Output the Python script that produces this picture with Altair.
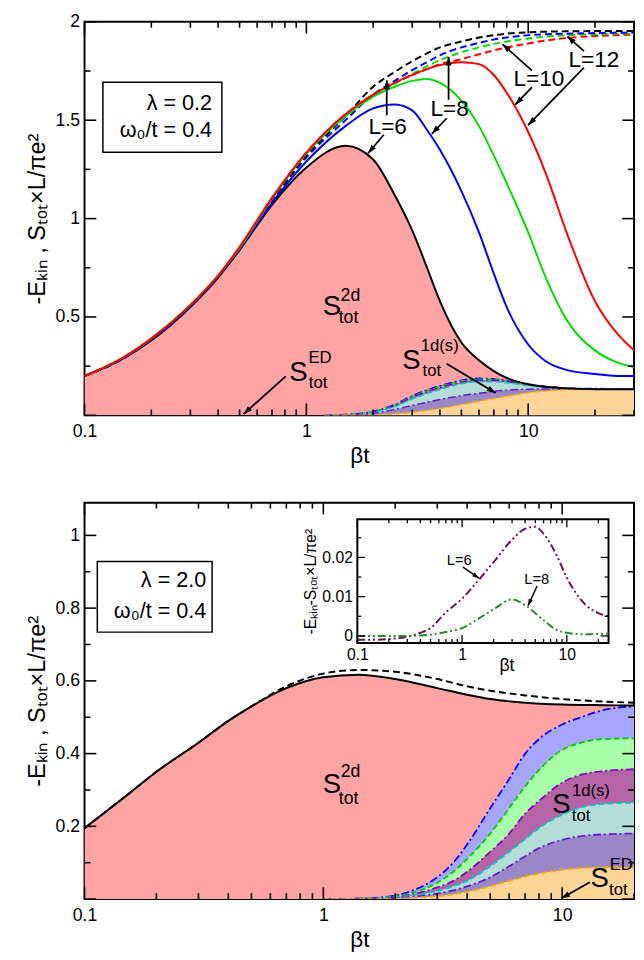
import math
import altair as alt
import pandas as pd

FONT = "Liberation Sans"

# ---------------- top panel: lambda = 0.2, omega0/t = 0.4 ----------------
BT_TOP = [0.1, 0.15, 0.2, 0.3, 0.4, 0.5, 0.7, 1.0, 1.5, 2.0, 2.5, 3.0, 3.5, 4.0,
          5.0, 6.0, 7.0, 8.0, 10.0, 12.0, 15.0, 20.0, 25.0, 30.0]
S_TOP_L6 = [0.20, 0.29, 0.38, 0.55, 0.70, 0.84, 1.07, 1.26, 1.37, 1.30, 1.12, 0.94,
            0.75, 0.58, 0.37, 0.28, 0.225, 0.19, 0.158, 0.145, 0.137, 0.133, 0.132, 0.132]
S_TOP_L8 = [0.20, 0.29, 0.385, 0.555, 0.705, 0.845, 1.08, 1.29, 1.47, 1.56, 1.58, 1.55,
            1.45, 1.35, 1.14, 0.93, 0.72, 0.55, 0.36, 0.275, 0.23, 0.21, 0.20, 0.20]
S_TOP_L10 = [0.20, 0.295, 0.39, 0.56, 0.71, 0.85, 1.10, 1.33, 1.52, 1.62, 1.67, 1.70,
             1.71, 1.69, 1.60, 1.47, 1.32, 1.18, 0.93, 0.70, 0.48, 0.33, 0.27, 0.245]
S_TOP_L12 = [0.20, 0.295, 0.39, 0.56, 0.71, 0.855, 1.105, 1.335, 1.53, 1.63, 1.69, 1.73,
             1.76, 1.78, 1.795, 1.785, 1.73, 1.64, 1.44, 1.23, 0.92, 0.58, 0.42, 0.33]
E_TOP_L6 = [0.20, 0.29, 0.385, 0.555, 0.705, 0.85, 1.09, 1.32, 1.52, 1.67, 1.745, 1.80,
            1.84, 1.87, 1.90, 1.92, 1.932, 1.94, 1.947, 1.95, 1.952, 1.953, 1.953, 1.953]
E_TOP_L8 = [0.20, 0.29, 0.385, 0.555, 0.705, 0.85, 1.09, 1.31, 1.50, 1.63, 1.70, 1.755,
            1.795, 1.83, 1.87, 1.893, 1.91, 1.92, 1.932, 1.937, 1.94, 1.943, 1.945, 1.945]
E_TOP_L10 = [0.20, 0.295, 0.39, 0.56, 0.71, 0.85, 1.10, 1.33, 1.52, 1.62, 1.685, 1.735,
             1.775, 1.805, 1.845, 1.87, 1.888, 1.90, 1.915, 1.925, 1.932, 1.937, 1.94, 1.94]
E_TOP_L12 = [0.20, 0.295, 0.39, 0.56, 0.71, 0.855, 1.105, 1.335, 1.53, 1.63, 1.69, 1.73,
             1.76, 1.785, 1.81, 1.835, 1.855, 1.87, 1.89, 1.905, 1.918, 1.928, 1.932, 1.935]

BT_TOP_1D = [1.2, 1.5, 2.0, 2.5, 3.0, 4.0, 5.0, 6.0, 7.0, 8.0, 10.0, 12.0, 15.0, 20.0, 30.0]
D_TOP_1 = [0, 0.004, 0.02, 0.055, 0.10, 0.15, 0.178, 0.188, 0.185, 0.177, 0.158, 0.147, 0.139, 0.136, 0.135]
D_TOP_2 = [0, 0.004, 0.019, 0.052, 0.096, 0.146, 0.174, 0.184, 0.182, 0.175, 0.156, 0.146, 0.138, 0.135, 0.135]
D_TOP_3 = [0, 0.003, 0.018, 0.049, 0.092, 0.141, 0.169, 0.179, 0.178, 0.172, 0.155, 0.145, 0.137, 0.135, 0.134]
D_TOP_4 = [0, 0.003, 0.016, 0.044, 0.083, 0.131, 0.160, 0.171, 0.171, 0.166, 0.151, 0.142, 0.136, 0.134, 0.134]
D_TOP_5 = [0, 0.002, 0.010, 0.030, 0.050, 0.080, 0.100, 0.112, 0.122, 0.128, 0.133, 0.134, 0.134, 0.134, 0.134]
ED_TOP = [0, 0.0, 0.002, 0.008, 0.015, 0.035, 0.055, 0.072, 0.085, 0.097, 0.115, 0.124, 0.130, 0.132, 0.133]

# ---------------- bottom panel: lambda = 2.0, omega0/t = 0.4 ----------------
BT_BOT = [0.1, 0.15, 0.2, 0.3, 0.4, 0.5, 0.7, 1.0, 1.4, 2.0, 3.0, 4.0, 5.0, 7.0, 10.0, 15.0, 20.0]
S_BOT = [0.195, 0.285, 0.35, 0.43, 0.49, 0.53, 0.58, 0.61, 0.617, 0.605, 0.58, 0.562,
         0.55, 0.54, 0.535, 0.533, 0.532]
E_BOT = [0.195, 0.285, 0.35, 0.43, 0.49, 0.53, 0.585, 0.62, 0.63, 0.625, 0.605, 0.585,
         0.573, 0.56, 0.55, 0.543, 0.54]

BT_BOT_1D = [1.0, 1.5, 2.0, 2.5, 3.0, 3.5, 4.0, 5.0, 6.0, 7.0, 8.0, 10.0, 12.0, 15.0, 20.0]
D_BOT_1 = [0.0, 0.002, 0.010, 0.030, 0.060, 0.100, 0.150, 0.250, 0.330, 0.400, 0.440, 0.480, 0.500, 0.520, 0.530]
D_BOT_2 = [0.0, 0.002, 0.008, 0.022, 0.045, 0.075, 0.110, 0.180, 0.250, 0.310, 0.355, 0.410, 0.430, 0.440, 0.442]
D_BOT_3 = [0.0, 0.001, 0.006, 0.017, 0.032, 0.050, 0.075, 0.130, 0.180, 0.235, 0.270, 0.320, 0.342, 0.352, 0.357]
D_BOT_4 = [0.0, 0.001, 0.005, 0.012, 0.022, 0.035, 0.050, 0.090, 0.130, 0.165, 0.195, 0.232, 0.252, 0.262, 0.265]
D_BOT_5 = [0.0, 0.001, 0.003, 0.008, 0.015, 0.024, 0.035, 0.060, 0.090, 0.118, 0.140, 0.163, 0.173, 0.178, 0.180]
ED_BOT = [0.0, 0.0, 0.001, 0.004, 0.008, 0.013, 0.020, 0.035, 0.050, 0.062, 0.070, 0.080, 0.085, 0.087, 0.087]

# ---------------- inset: -E_kin - S_tot ----------------
BT_INSET = [0.1, 0.15, 0.2, 0.3, 0.4, 0.5, 0.7, 1.0, 1.5, 2.0, 3.0, 4.0, 5.0, 6.0, 8.0,
            10.0, 12.0, 15.0, 20.0, 25.0]
DIFF_L6 = [-0.001, -0.001, -0.0008, -0.0002, 0.0008, 0.002, 0.006, 0.0095, 0.0148, 0.0188,
           0.0245, 0.0273, 0.0278, 0.026, 0.0205, 0.0148, 0.0112, 0.008, 0.0058, 0.005]
DIFF_L8 = [0.0, 0.0, 0.0, 0.0, 0.0001, 0.0003, 0.001, 0.002, 0.0047, 0.0068, 0.0093, 0.0078,
           0.0058, 0.004, 0.0015, 0.0008, 0.0005, 0.0004, 0.0005, 0.0006]

# ---------------- axes / ticks ----------------
TOP_XDOM = [0.1, 30.0]
TOP_YDOM = [0.0, 2.0]
BOT_XDOM = [0.1, 20.0]
BOT_YDOM = [0.0, 1.09]
INSET_XDOM = [0.1, 25.0]
INSET_YDOM = [-0.0018, 0.0297]
X_LABELS = [0.1, 1, 10]
TOP_YLABELS = [0.5, 1, 1.5, 2]
BOT_YLABELS = [0.2, 0.4, 0.6, 0.8, 1]
INSET_YLABELS = [0, 0.01, 0.02]

X_MAJOR = [0.1, 1, 10]
TOP_XMINOR = [0.2, 0.3, 0.4, 0.5, 0.6, 0.7, 0.8, 0.9, 2, 3, 4, 5, 6, 7, 8, 9, 20, 30]
BOT_XMINOR = [0.2, 0.3, 0.4, 0.5, 0.6, 0.7, 0.8, 0.9, 2, 3, 4, 5, 6, 7, 8, 9, 20]
TOP_YMAJOR = [0, 0.5, 1, 1.5, 2]
TOP_YMINOR = [0.25, 0.75, 1.25, 1.75]
BOT_YMAJOR = [0, 0.2, 0.4, 0.6, 0.8, 1.0]
BOT_YMINOR = [0.1, 0.3, 0.5, 0.7, 0.9]
INSET_YMAJOR = [0, 0.01, 0.02]
INSET_YMINOR = [0.005, 0.015, 0.025]

# ---------------- annotations (data coordinates) ----------------
TOP_BOX = [0.121, 0.416, 1.337, 1.693]
TOP_BOX_TEXT = [("λ = 0.2", 0.376, 1.589, 22), ("ω₀/t = 0.4", 0.376, 1.450, 22)]
TOP_LABELS = [("S", 1.302, 0.550, 28), ("2d", 1.58, 0.604, 18), ("tot", 1.548, 0.495, 18),
              ("S", 0.921, 0.213, 28), ("ED", 1.152, 0.292, 17), ("tot", 1.129, 0.163, 17),
              ("S", 2.972, 0.277, 28), ("1d(s)", 3.993, 0.351, 17), ("tot", 3.680, 0.223, 17),
              ("L=6", 2.327, 1.465, 23), ("L=8", 4.421, 1.554, 23),
              ("L=10", 11.17, 1.708, 23), ("L=12", 19.76, 1.807, 23)]
TOP_ARROWS = [(0.807, 0.198, 0.5206, 0.006), (4.289, 0.262, 7.135, 0.114),
              (2.303, 1.525, 2.303, 1.703), (2.234, 1.426, 1.898, 1.332),
              (4.376, 1.604, 4.376, 1.822), (4.289, 1.510, 3.680, 1.431),
              (10.40, 1.752, 7.66, 1.886), (10.40, 1.668, 8.75, 1.579),
              (17.84, 1.851, 15.01, 1.926), (17.84, 1.767, 9.99, 1.475)]

BOT_BOX = [0.1131, 0.3421, 0.734, 0.928]
BOT_BOX_TEXT = [("λ = 2.0", 0.3233, 0.877, 22), ("ω₀/t = 0.4", 0.3233, 0.791, 22)]
BOT_LABELS = [("S", 1.085, 0.313, 28), ("2d", 1.299, 0.348, 18), ("tot", 1.275, 0.275, 18),
              ("S", 9.93, 0.259, 28), ("1d(s)", 13.19, 0.297, 17), ("tot", 12.00, 0.227, 17),
              ("S", 14.36, 0.054, 28), ("ED", 17.69, 0.094, 17), ("tot", 17.19, 0.024, 17)]
BOT_ARROWS = [(13.06, 0.046, 9.93, 0.002)]

INSET_FRAME = [0.1, 25.0, -0.0018, 0.0297]
INSET_LABELS = [("L=6", 0.941, 0.0192, 15), ("L=8", 5.17, 0.01445, 15)]
INSET_ARROWS = [(1.02, 0.0175, 1.45, 0.0147), (5.2, 0.0127, 4.26, 0.0077)]

# ---------------- styling ----------------
W = 560
H_TOP = 401
H_BOT = 404
INSET_BOX = [278, 534, 17, 143]  # left, right, top, bottom (px inside lower plot)
PINK = "#FFA3A3"
FILLS = ["#A6A6FF", "#A6FFA6", "#B565A7", "#B3DED8", "#9B87C8", "#FFD597"]
EDGES = ["#0000FF", "#00CC00", "#8A00C8", "#00C8C8", "#6A1ACD", "#FFA500"]
EDGE_DASH = [[8, 3, 2, 3], [6, 3], [8, 3, 2, 3], [6, 3], [8, 3, 2, 3], [6, 3]]
ARROW = "M0,0L-0.75,2.2L0.75,2.2Z"
YTITLE = "-Eₖᵢₙ , Sₜₒₜ×L/πe²"
INSET_YTITLE = "-Eₖᵢₙ-Sₜₒₜ×L/πe²"


def df_xy(xs, ys):
    return pd.DataFrame({"bt": xs, "v": ys})


def encoders(xdom, ydom, xaxis, yaxis, xr=None, yr=None):
    xk = dict(type="log", domain=xdom, nice=False)
    yk = dict(domain=ydom, nice=False, zero=False)
    if xr is not None:
        xk["range"] = xr
    if yr is not None:
        yk["range"] = yr
    xsc = alt.Scale(**xk)
    ysc = alt.Scale(**yk)
    return (lambda f: alt.X(f, scale=xsc, axis=xaxis)), (lambda f: alt.Y(f, scale=ysc, axis=yaxis))


def to_px(x, y, xdom, ydom, xr, yr):
    lx0, lx1 = math.log10(xdom[0]), math.log10(xdom[1])
    px = xr[0] + (math.log10(x) - lx0) / (lx1 - lx0) * (xr[1] - xr[0])
    py = yr[0] + (y - ydom[0]) / (ydom[1] - ydom[0]) * (yr[1] - yr[0])
    return px, py


def curve(xs, ys, X, Y, color, width=2.0, dash=None):
    kw = dict(color=color, strokeWidth=width, interpolate="monotone", clip=True)
    if dash:
        kw["strokeDash"] = dash
    return alt.Chart(df_xy(xs, ys)).mark_line(**kw).encode(x=X("bt:Q"), y=Y("v:Q"))


def area(xs, ys, X, Y, color):
    return alt.Chart(df_xy(xs, ys)).mark_area(color=color, opacity=1, interpolate="monotone",
                                               clip=True).encode(x=X("bt:Q"), y=Y("v:Q"))


def texts(rows, X, Y, align="center", clip=False):
    df = pd.DataFrame(rows, columns=["t", "bt", "v", "fs"])
    return alt.Chart(df).mark_text(font=FONT, align=align, baseline="middle", color="black",
                                   clip=clip).encode(
        x=X("bt:Q"), y=Y("v:Q"), text="t:N", size=alt.Size("fs:Q", scale=None, legend=None))


def segments(df, X, Y, width, color="black"):
    return alt.Chart(df).mark_rule(color=color, strokeWidth=width).encode(
        x=X("bt:Q"), y=Y("v:Q"), x2="bt2:Q", y2="v2:Q")


def arrows(rows, X, Y, xdom, ydom, xr, yr, width=1.8, head=64):
    recs = []
    for x1, y1, x2, y2 in rows:
        p1 = to_px(x1, y1, xdom, ydom, xr, yr)
        p2 = to_px(x2, y2, xdom, ydom, xr, yr)
        ang = math.degrees(math.atan2(p2[0] - p1[0], -(p2[1] - p1[1]))) % 360
        recs.append(dict(bt=x1, v=y1, bt2=x2, v2=y2, ang=ang))
    df = pd.DataFrame(recs)
    line = segments(df, X, Y, width)
    tip = alt.Chart(df).mark_point(shape=ARROW, filled=True, color="black", opacity=1,
                                   size=head, strokeWidth=0).encode(
        x=X("bt2:Q"), y=Y("v2:Q"), angle=alt.Angle("ang:Q", scale=None))
    return [line, tip]


def box(b, X, Y, sw=1.5):
    df = pd.DataFrame([dict(bt=b[0], bt2=b[1], v=b[2], v2=b[3])])
    return alt.Chart(df).mark_rect(fill="white", stroke="black", strokeWidth=sw).encode(
        x=X("bt:Q"), x2="bt2:Q", y=Y("v:Q"), y2="v2:Q")


def tick_rules(X, Y, xdom, ydom, xmaj, xmin, ymaj, ymin, big, small, bx, tw=1.5):
    """Inward tick marks on all four sides of a plot box (px box gives the scale ranges)."""
    left, right, top, bottom = bx
    dv = (ydom[1] - ydom[0]) / (bottom - top)              # data units per px (y)
    lx0, lx1 = math.log10(xdom[0]), math.log10(xdom[1])
    dl = (lx1 - lx0) / (right - left)                       # decades per px (x)
    recs = []
    for vals, ln in [(xmaj, big), (xmin, small)]:
        for t in vals:
            recs.append(dict(bt=float(t), bt2=float(t), v=ydom[0], v2=ydom[0] + ln * dv))
            recs.append(dict(bt=float(t), bt2=float(t), v=ydom[1], v2=ydom[1] - ln * dv))
    for vals, ln in [(ymaj, big), (ymin, small)]:
        for t in vals:
            recs.append(dict(bt=xdom[0], bt2=10 ** (lx0 + ln * dl), v=float(t), v2=float(t)))
            recs.append(dict(bt=xdom[1], bt2=10 ** (lx1 - ln * dl), v=float(t), v2=float(t)))
    return [segments(pd.DataFrame(recs), X, Y, tw)]


def main_axes(ylabels):
    xa = alt.Axis(values=X_LABELS, format="~g", title="βt", labelFontSize=18, titleFontSize=23,
                  ticks=False, tickSize=0, domain=False, grid=False, labelPadding=8,
                  titlePadding=4, labelFlush=False)
    ya = alt.Axis(values=ylabels, format="~g", title=YTITLE, labelFontSize=18, titleFontSize=24,
                  ticks=False, tickSize=0, domain=False, grid=False, labelPadding=5,
                  titlePadding=6, labelFlush=False)
    return xa, ya


# ================= top panel =================
xa, ya = main_axes(TOP_YLABELS)
X, Y = encoders(TOP_XDOM, TOP_YDOM, xa, ya)
top_layers = [area(BT_TOP, S_TOP_L6, X, Y, PINK)]
for ys_, fc in zip([D_TOP_1, D_TOP_2, D_TOP_3, D_TOP_4, D_TOP_5, ED_TOP], FILLS):
    top_layers.append(area(BT_TOP_1D, ys_, X, Y, fc))
for ys_, lc, dsh in zip([D_TOP_1, D_TOP_2, D_TOP_3, D_TOP_4, D_TOP_5, ED_TOP], EDGES, EDGE_DASH):
    top_layers.append(curve(BT_TOP_1D, ys_, X, Y, lc, 1.5, dsh))
for ys_, lc in [(E_TOP_L12, "#FF0000"), (E_TOP_L10, "#00DD00"), (E_TOP_L8, "#0000FF"), (E_TOP_L6, "black")]:
    top_layers.append(curve(BT_TOP, ys_, X, Y, lc, 2.0, [7, 4]))
for ys_, lc in [(S_TOP_L6, "black"), (S_TOP_L8, "#0000FF"), (S_TOP_L10, "#00DD00"), (S_TOP_L12, "#FF0000")]:
    top_layers.append(curve(BT_TOP, ys_, X, Y, lc, 2.0))
top_layers.append(box(TOP_BOX, X, Y))
top_layers.append(texts(TOP_BOX_TEXT, X, Y, align="right"))
top_layers.append(texts(TOP_LABELS, X, Y))
top_layers += arrows(TOP_ARROWS, X, Y, TOP_XDOM, TOP_YDOM, [0, W], [H_TOP, 0])
top_layers += tick_rules(X, Y, TOP_XDOM, TOP_YDOM, X_MAJOR, TOP_XMINOR, TOP_YMAJOR, TOP_YMINOR,
                         12, 6, [0, W, 0, H_TOP], tw=1.6)

top = alt.layer(*top_layers).properties(width=W, height=H_TOP)

# ================= bottom panel =================
xa, ya = main_axes(BOT_YLABELS)
X, Y = encoders(BOT_XDOM, BOT_YDOM, xa, ya)
bot_layers = [area(BT_BOT, S_BOT, X, Y, PINK)]
for ys_, fc in zip([D_BOT_1, D_BOT_2, D_BOT_3, D_BOT_4, D_BOT_5, ED_BOT], FILLS):
    bot_layers.append(area(BT_BOT_1D, ys_, X, Y, fc))
for ys_, lc, dsh in zip([D_BOT_1, D_BOT_2, D_BOT_3, D_BOT_4, D_BOT_5, ED_BOT], EDGES, EDGE_DASH):
    bot_layers.append(curve(BT_BOT_1D, ys_, X, Y, lc, 1.8, dsh))
bot_layers.append(curve(BT_BOT, E_BOT, X, Y, "black", 2.0, [7, 4]))
bot_layers.append(curve(BT_BOT, S_BOT, X, Y, "black", 2.0))
bot_layers.append(box(BOT_BOX, X, Y))
bot_layers.append(texts(BOT_BOX_TEXT, X, Y, align="right"))
bot_layers.append(texts(BOT_LABELS, X, Y, clip=True))
bot_layers += arrows(BOT_ARROWS, X, Y, BOT_XDOM, BOT_YDOM, [0, W], [H_BOT, 0])
bot_layers += tick_rules(X, Y, BOT_XDOM, BOT_YDOM, X_MAJOR, BOT_XMINOR, BOT_YMAJOR, BOT_YMINOR,
                         12, 6, [0, W, 0, H_BOT], tw=1.6)

# inset
il, ir, it, ib = INSET_BOX
ixa = alt.Axis(orient="bottom", offset=ib - H_BOT, values=X_LABELS, format="~g", title="βt",
               labelFontSize=16, titleFontSize=18, ticks=False, tickSize=0, domain=False,
               grid=False, labelPadding=4, labelFlush=False, titleX=430, titleY=14,
               titleBaseline="top")
iya = alt.Axis(orient="left", offset=-il, values=INSET_YLABELS, format="~g", title=INSET_YTITLE,
               labelFontSize=16, titleFontSize=16, ticks=False, tickSize=0, domain=False,
               grid=False, labelPadding=5, titlePadding=3, labelFlush=False)
IX, IY = encoders(INSET_XDOM, INSET_YDOM, ixa, iya, xr=[il, ir], yr=[ib, it])
inset_layers = [
    box(INSET_FRAME, IX, IY, sw=2),
    curve(BT_INSET, DIFF_L6, IX, IY, "#6E1452", 2.0, [8, 3, 2, 3, 2, 3]),
    curve(BT_INSET, DIFF_L8, IX, IY, "#228B22", 2.0, [8, 3, 2, 3, 2, 3]),
    texts(INSET_LABELS, IX, IY),
] + arrows(INSET_ARROWS, IX, IY, INSET_XDOM, INSET_YDOM, [il, ir], [ib, it], width=1.5, head=40)
inset_layers += tick_rules(IX, IY, INSET_XDOM, INSET_YDOM, X_MAJOR, BOT_XMINOR, INSET_YMAJOR,
                           INSET_YMINOR, 8, 4, INSET_BOX, tw=1.3)

bot = alt.layer(
    alt.layer(*bot_layers),
    alt.layer(*inset_layers),
).resolve_scale(x="independent", y="independent").properties(width=W, height=H_BOT)

chart = alt.vconcat(top, bot, spacing=33).properties(
    padding={"left": 16, "top": -5, "right": 0, "bottom": 0}
).configure_view(stroke="black", strokeWidth=2).configure_axis(
    labelFont=FONT, titleFont=FONT, labelColor="black", titleColor="black",
    titleFontWeight="normal", grid=False
)

chart.save("out.html", embed_options={"renderer": "svg", "actions": False})
